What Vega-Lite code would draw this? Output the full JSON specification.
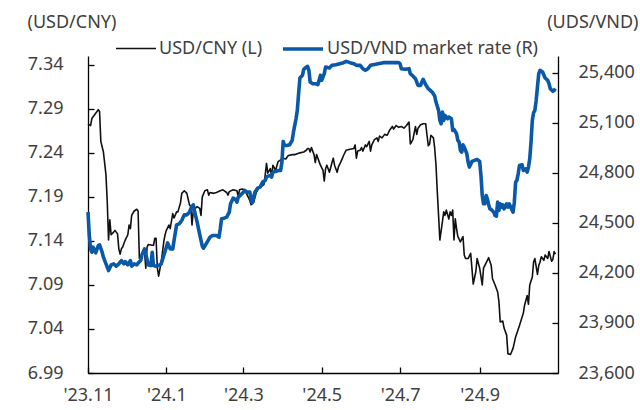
{
  "$schema": "https://vega.github.io/schema/vega-lite/v6.json",
  "autosize": {"type": "none"},
  "width": 470,
  "height": 317,
  "padding": {"left": 88, "top": 56, "right": 82, "bottom": 37},
  "background": "white",
  "config": {
    "view": {"stroke": null},
    "font": "Noto Sans",
    "axis": {
      "grid": false,
      "domainColor": "#000000",
      "domainWidth": 1.3,
      "tickColor": "#000000",
      "tickWidth": 1.3,
      "labelFont": "Noto Sans",
      "labelFontSize": 18,
      "labelColor": "#404040",
      "titleFont": "Noto Sans",
      "titleFontSize": 18,
      "titleFontWeight": "normal",
      "titleColor": "#404040"
    }
  },
  "layer": [
    {
      "data": {
        "format": {"parse": {"d": "date:'%Y-%m-%d'"}},
        "values": [
          {"d": "2023-11-01", "v": 7.273}, {"d": "2023-11-03", "v": 7.271}, {"d": "2023-11-04", "v": 7.279}, {"d": "2023-11-06", "v": 7.283},
          {"d": "2023-11-08", "v": 7.287}, {"d": "2023-11-09", "v": 7.289}, {"d": "2023-11-10", "v": 7.287}, {"d": "2023-11-11", "v": 7.253},
          {"d": "2023-11-13", "v": 7.241}, {"d": "2023-11-15", "v": 7.215}, {"d": "2023-11-16", "v": 7.184}, {"d": "2023-11-17", "v": 7.141},
          {"d": "2023-11-18", "v": 7.164}, {"d": "2023-11-19", "v": 7.147}, {"d": "2023-11-21", "v": 7.150}, {"d": "2023-11-22", "v": 7.152},
          {"d": "2023-11-24", "v": 7.148}, {"d": "2023-11-25", "v": 7.131}, {"d": "2023-11-26", "v": 7.125}, {"d": "2023-11-27", "v": 7.131},
          {"d": "2023-11-28", "v": 7.133}, {"d": "2023-11-30", "v": 7.141}, {"d": "2023-12-02", "v": 7.147}, {"d": "2023-12-03", "v": 7.158},
          {"d": "2023-12-04", "v": 7.154}, {"d": "2023-12-05", "v": 7.169}, {"d": "2023-12-07", "v": 7.174}, {"d": "2023-12-09", "v": 7.176},
          {"d": "2023-12-10", "v": 7.174}, {"d": "2023-12-11", "v": 7.120}, {"d": "2023-12-12", "v": 7.122}, {"d": "2023-12-14", "v": 7.128},
          {"d": "2023-12-15", "v": 7.128}, {"d": "2023-12-16", "v": 7.109}, {"d": "2023-12-17", "v": 7.133}, {"d": "2023-12-18", "v": 7.136},
          {"d": "2023-12-21", "v": 7.135}, {"d": "2023-12-22", "v": 7.135}, {"d": "2023-12-23", "v": 7.143}, {"d": "2023-12-24", "v": 7.143},
          {"d": "2023-12-25", "v": 7.109}, {"d": "2023-12-26", "v": 7.100}, {"d": "2023-12-28", "v": 7.116}, {"d": "2023-12-30", "v": 7.139},
          {"d": "2023-12-31", "v": 7.147}, {"d": "2024-01-01", "v": 7.152}, {"d": "2024-01-03", "v": 7.158}, {"d": "2024-01-04", "v": 7.154},
          {"d": "2024-01-06", "v": 7.171}, {"d": "2024-01-07", "v": 7.166}, {"d": "2024-01-09", "v": 7.173}, {"d": "2024-01-10", "v": 7.173},
          {"d": "2024-01-12", "v": 7.183}, {"d": "2024-01-13", "v": 7.194}, {"d": "2024-01-15", "v": 7.197}, {"d": "2024-01-17", "v": 7.194},
          {"d": "2024-01-19", "v": 7.181}, {"d": "2024-01-20", "v": 7.179}, {"d": "2024-01-21", "v": 7.158}, {"d": "2024-01-22", "v": 7.175},
          {"d": "2024-01-25", "v": 7.179}, {"d": "2024-01-27", "v": 7.177}, {"d": "2024-01-28", "v": 7.169}, {"d": "2024-01-29", "v": 7.190},
          {"d": "2024-01-31", "v": 7.197}, {"d": "2024-02-02", "v": 7.198}, {"d": "2024-02-03", "v": 7.192}, {"d": "2024-02-04", "v": 7.195},
          {"d": "2024-02-07", "v": 7.194}, {"d": "2024-02-09", "v": 7.195}, {"d": "2024-02-12", "v": 7.197}, {"d": "2024-02-14", "v": 7.198},
          {"d": "2024-02-17", "v": 7.195}, {"d": "2024-02-18", "v": 7.192}, {"d": "2024-02-19", "v": 7.196}, {"d": "2024-02-22", "v": 7.198},
          {"d": "2024-02-25", "v": 7.197}, {"d": "2024-02-26", "v": 7.190}, {"d": "2024-02-27", "v": 7.198}, {"d": "2024-02-29", "v": 7.199},
          {"d": "2024-03-02", "v": 7.198}, {"d": "2024-03-04", "v": 7.192}, {"d": "2024-03-06", "v": 7.186}, {"d": "2024-03-07", "v": 7.181},
          {"d": "2024-03-09", "v": 7.184}, {"d": "2024-03-11", "v": 7.195}, {"d": "2024-03-13", "v": 7.200}, {"d": "2024-03-15", "v": 7.202},
          {"d": "2024-03-17", "v": 7.204}, {"d": "2024-03-18", "v": 7.215}, {"d": "2024-03-19", "v": 7.228}, {"d": "2024-03-20", "v": 7.217},
          {"d": "2024-03-22", "v": 7.222}, {"d": "2024-03-23", "v": 7.213}, {"d": "2024-03-24", "v": 7.226}, {"d": "2024-03-26", "v": 7.220},
          {"d": "2024-03-28", "v": 7.230}, {"d": "2024-03-30", "v": 7.232}, {"d": "2024-04-01", "v": 7.234}, {"d": "2024-04-03", "v": 7.233},
          {"d": "2024-04-05", "v": 7.237}, {"d": "2024-04-08", "v": 7.238}, {"d": "2024-04-10", "v": 7.238}, {"d": "2024-04-12", "v": 7.239},
          {"d": "2024-04-14", "v": 7.240}, {"d": "2024-04-17", "v": 7.241}, {"d": "2024-04-19", "v": 7.243}, {"d": "2024-04-20", "v": 7.245},
          {"d": "2024-04-21", "v": 7.245}, {"d": "2024-04-22", "v": 7.241}, {"d": "2024-04-23", "v": 7.246}, {"d": "2024-04-25", "v": 7.238},
          {"d": "2024-04-26", "v": 7.229}, {"d": "2024-04-27", "v": 7.238}, {"d": "2024-04-30", "v": 7.226}, {"d": "2024-05-02", "v": 7.220},
          {"d": "2024-05-03", "v": 7.208}, {"d": "2024-05-04", "v": 7.222}, {"d": "2024-05-05", "v": 7.226}, {"d": "2024-05-07", "v": 7.218},
          {"d": "2024-05-09", "v": 7.229}, {"d": "2024-05-10", "v": 7.234}, {"d": "2024-05-11", "v": 7.226}, {"d": "2024-05-13", "v": 7.218},
          {"d": "2024-05-14", "v": 7.224}, {"d": "2024-05-16", "v": 7.230}, {"d": "2024-05-18", "v": 7.237}, {"d": "2024-05-20", "v": 7.243},
          {"d": "2024-05-23", "v": 7.244}, {"d": "2024-05-26", "v": 7.245}, {"d": "2024-05-27", "v": 7.249}, {"d": "2024-05-28", "v": 7.234},
          {"d": "2024-05-29", "v": 7.242}, {"d": "2024-05-31", "v": 7.243}, {"d": "2024-06-01", "v": 7.246}, {"d": "2024-06-02", "v": 7.242},
          {"d": "2024-06-04", "v": 7.249}, {"d": "2024-06-05", "v": 7.247}, {"d": "2024-06-07", "v": 7.253}, {"d": "2024-06-08", "v": 7.242},
          {"d": "2024-06-09", "v": 7.249}, {"d": "2024-06-11", "v": 7.255}, {"d": "2024-06-13", "v": 7.257}, {"d": "2024-06-14", "v": 7.253},
          {"d": "2024-06-15", "v": 7.259}, {"d": "2024-06-17", "v": 7.257}, {"d": "2024-06-19", "v": 7.261}, {"d": "2024-06-21", "v": 7.260},
          {"d": "2024-06-23", "v": 7.266}, {"d": "2024-06-25", "v": 7.270}, {"d": "2024-06-26", "v": 7.267}, {"d": "2024-06-28", "v": 7.271},
          {"d": "2024-06-30", "v": 7.269}, {"d": "2024-07-02", "v": 7.270}, {"d": "2024-07-04", "v": 7.268}, {"d": "2024-07-06", "v": 7.271},
          {"d": "2024-07-08", "v": 7.275}, {"d": "2024-07-09", "v": 7.250}, {"d": "2024-07-11", "v": 7.255}, {"d": "2024-07-13", "v": 7.270},
          {"d": "2024-07-14", "v": 7.261}, {"d": "2024-07-15", "v": 7.268}, {"d": "2024-07-17", "v": 7.272}, {"d": "2024-07-19", "v": 7.273},
          {"d": "2024-07-21", "v": 7.273}, {"d": "2024-07-22", "v": 7.260}, {"d": "2024-07-23", "v": 7.248}, {"d": "2024-07-24", "v": 7.250},
          {"d": "2024-07-25", "v": 7.260}, {"d": "2024-07-27", "v": 7.257}, {"d": "2024-07-28", "v": 7.245}, {"d": "2024-07-29", "v": 7.226},
          {"d": "2024-07-30", "v": 7.196}, {"d": "2024-07-31", "v": 7.169}, {"d": "2024-08-01", "v": 7.141}, {"d": "2024-08-03", "v": 7.162},
          {"d": "2024-08-04", "v": 7.173}, {"d": "2024-08-05", "v": 7.169}, {"d": "2024-08-06", "v": 7.175}, {"d": "2024-08-08", "v": 7.165},
          {"d": "2024-08-09", "v": 7.173}, {"d": "2024-08-10", "v": 7.169}, {"d": "2024-08-11", "v": 7.175}, {"d": "2024-08-12", "v": 7.141},
          {"d": "2024-08-13", "v": 7.165}, {"d": "2024-08-14", "v": 7.154}, {"d": "2024-08-15", "v": 7.145}, {"d": "2024-08-17", "v": 7.139},
          {"d": "2024-08-19", "v": 7.145}, {"d": "2024-08-20", "v": 7.124}, {"d": "2024-08-21", "v": 7.120}, {"d": "2024-08-23", "v": 7.120},
          {"d": "2024-08-25", "v": 7.126}, {"d": "2024-08-27", "v": 7.091}, {"d": "2024-08-29", "v": 7.105}, {"d": "2024-08-30", "v": 7.120},
          {"d": "2024-09-01", "v": 7.109}, {"d": "2024-09-03", "v": 7.090}, {"d": "2024-09-04", "v": 7.109}, {"d": "2024-09-07", "v": 7.118},
          {"d": "2024-09-08", "v": 7.121}, {"d": "2024-09-10", "v": 7.112}, {"d": "2024-09-11", "v": 7.097}, {"d": "2024-09-13", "v": 7.090},
          {"d": "2024-09-15", "v": 7.082}, {"d": "2024-09-16", "v": 7.071}, {"d": "2024-09-17", "v": 7.048}, {"d": "2024-09-19", "v": 7.049},
          {"d": "2024-09-20", "v": 7.041}, {"d": "2024-09-22", "v": 7.033}, {"d": "2024-09-23", "v": 7.012}, {"d": "2024-09-25", "v": 7.011},
          {"d": "2024-09-27", "v": 7.018}, {"d": "2024-09-29", "v": 7.031}, {"d": "2024-10-02", "v": 7.044}, {"d": "2024-10-05", "v": 7.058},
          {"d": "2024-10-06", "v": 7.067}, {"d": "2024-10-08", "v": 7.078}, {"d": "2024-10-09", "v": 7.068}, {"d": "2024-10-10", "v": 7.090},
          {"d": "2024-10-12", "v": 7.099}, {"d": "2024-10-13", "v": 7.116}, {"d": "2024-10-14", "v": 7.120}, {"d": "2024-10-16", "v": 7.102},
          {"d": "2024-10-17", "v": 7.112}, {"d": "2024-10-18", "v": 7.116}, {"d": "2024-10-19", "v": 7.122}, {"d": "2024-10-21", "v": 7.118},
          {"d": "2024-10-22", "v": 7.124}, {"d": "2024-10-24", "v": 7.120}, {"d": "2024-10-25", "v": 7.128}, {"d": "2024-10-27", "v": 7.117},
          {"d": "2024-10-28", "v": 7.119}, {"d": "2024-10-29", "v": 7.128}, {"d": "2024-10-30", "v": 7.125}
        ]
      },
      "mark": {"type": "line", "interpolate": "linear", "strokeJoin": "round"},
      "encoding": {
        "x": {
          "field": "d", "type": "temporal",
          "scale": {"domain": [{"year": 2023, "month": 11, "date": 1}, {"year": 2024, "month": 11, "date": 1}], "nice": false},
          "axis": {
            "orient": "bottom",
            "title": null,
            "ticks": false,
            "tickSize": 0,
            "values": [
              {"year": 2023, "month": 11, "date": 1}, {"year": 2024, "month": 1, "date": 1}, {"year": 2024, "month": 3, "date": 1},
              {"year": 2024, "month": 5, "date": 1}, {"year": 2024, "month": 7, "date": 1}, {"year": 2024, "month": 9, "date": 1}
            ],
            "labelExpr": "\"'\" + timeFormat(datum.value, '%y') + '.' + (month(datum.value) + 1)",
            "labelPadding": 13,
            "labelFlush": false,
            "labelOverlap": false
          }
        },
        "y": {
          "field": "v", "type": "quantitative",
          "scale": {"domain": [6.99, 7.35], "nice": false, "zero": false},
          "axis": {
            "orient": "left",
            "ticks": false,
            "tickSize": 0,
            "values": [6.99, 7.04, 7.09, 7.14, 7.19, 7.24, 7.29, 7.34],
            "format": ".2f",
            "labelPadding": 25,
            "title": "(USD/CNY)",
            "titleAngle": 0,
            "titleAlign": "left",
            "titleBaseline": "middle",
            "titleX": -61,
            "titleY": -34
          }
        },
        "color": {
          "datum": "USD/CNY (L)",
          "type": "nominal",
          "scale": {"domain": ["USD/CNY (L)", "USD/VND market rate (R)"], "range": ["#111111", "#0a58a8"]},
          "legend": {
            "title": null,
            "orient": "none",
            "legendX": 27,
            "legendY": -29,
            "direction": "horizontal",
            "symbolType": "stroke",
            "symbolSize": 1600,
            "symbolStrokeWidth": 2.5,
            "labelFont": "Noto Sans",
            "labelFontSize": 18,
            "labelColor": "#404040",
            "labelLimit": 0,
            "labelOffset": 2,
            "columnPadding": 12
          }
        },
        "strokeWidth": {
          "datum": "USD/CNY (L)",
          "type": "nominal",
          "scale": {"domain": ["USD/CNY (L)", "USD/VND market rate (R)"], "range": [1.6, 3.6]}
        }
      }
    },
    {
      "data": {
        "format": {"parse": {"d": "date:'%Y-%m-%d'"}},
        "values": [
          {"d": "2023-11-01", "v": 24564}, {"d": "2023-11-02", "v": 24424}, {"d": "2023-11-03", "v": 24344}, {"d": "2023-11-04", "v": 24324},
          {"d": "2023-11-05", "v": 24354}, {"d": "2023-11-07", "v": 24320}, {"d": "2023-11-09", "v": 24364}, {"d": "2023-11-10", "v": 24368},
          {"d": "2023-11-12", "v": 24324}, {"d": "2023-11-13", "v": 24294}, {"d": "2023-11-15", "v": 24254}, {"d": "2023-11-17", "v": 24214},
          {"d": "2023-11-19", "v": 24248}, {"d": "2023-11-21", "v": 24254}, {"d": "2023-11-23", "v": 24240}, {"d": "2023-11-25", "v": 24254},
          {"d": "2023-11-27", "v": 24274}, {"d": "2023-11-29", "v": 24254}, {"d": "2023-11-30", "v": 24268}, {"d": "2023-12-02", "v": 24248},
          {"d": "2023-12-04", "v": 24274}, {"d": "2023-12-05", "v": 24240}, {"d": "2023-12-07", "v": 24254}, {"d": "2023-12-09", "v": 24248},
          {"d": "2023-12-11", "v": 24268}, {"d": "2023-12-12", "v": 24274}, {"d": "2023-12-13", "v": 24308}, {"d": "2023-12-15", "v": 24344},
          {"d": "2023-12-17", "v": 24280}, {"d": "2023-12-18", "v": 24248}, {"d": "2023-12-20", "v": 24244}, {"d": "2023-12-21", "v": 24324},
          {"d": "2023-12-22", "v": 24244}, {"d": "2023-12-24", "v": 24240}, {"d": "2023-12-26", "v": 24244}, {"d": "2023-12-28", "v": 24254},
          {"d": "2023-12-30", "v": 24304}, {"d": "2024-01-01", "v": 24354}, {"d": "2024-01-02", "v": 24380}, {"d": "2024-01-04", "v": 24344},
          {"d": "2024-01-06", "v": 24344}, {"d": "2024-01-07", "v": 24394}, {"d": "2024-01-09", "v": 24488}, {"d": "2024-01-11", "v": 24494},
          {"d": "2024-01-13", "v": 24514}, {"d": "2024-01-15", "v": 24548}, {"d": "2024-01-17", "v": 24548}, {"d": "2024-01-19", "v": 24564},
          {"d": "2024-01-20", "v": 24584}, {"d": "2024-01-22", "v": 24608}, {"d": "2024-01-23", "v": 24568}, {"d": "2024-01-25", "v": 24504},
          {"d": "2024-01-27", "v": 24430}, {"d": "2024-01-29", "v": 24360}, {"d": "2024-01-30", "v": 24348}, {"d": "2024-02-01", "v": 24374},
          {"d": "2024-02-04", "v": 24414}, {"d": "2024-02-06", "v": 24424}, {"d": "2024-02-09", "v": 24424}, {"d": "2024-02-11", "v": 24414},
          {"d": "2024-02-12", "v": 24464}, {"d": "2024-02-13", "v": 24524}, {"d": "2024-02-15", "v": 24528}, {"d": "2024-02-17", "v": 24534},
          {"d": "2024-02-19", "v": 24564}, {"d": "2024-02-20", "v": 24614}, {"d": "2024-02-22", "v": 24648}, {"d": "2024-02-24", "v": 24640},
          {"d": "2024-02-25", "v": 24624}, {"d": "2024-02-26", "v": 24654}, {"d": "2024-02-28", "v": 24668}, {"d": "2024-03-01", "v": 24684},
          {"d": "2024-03-02", "v": 24694}, {"d": "2024-03-04", "v": 24684}, {"d": "2024-03-06", "v": 24684}, {"d": "2024-03-07", "v": 24644},
          {"d": "2024-03-08", "v": 24620}, {"d": "2024-03-10", "v": 24684}, {"d": "2024-03-12", "v": 24708}, {"d": "2024-03-14", "v": 24714},
          {"d": "2024-03-16", "v": 24744}, {"d": "2024-03-18", "v": 24754}, {"d": "2024-03-19", "v": 24774}, {"d": "2024-03-20", "v": 24780},
          {"d": "2024-03-22", "v": 24784}, {"d": "2024-03-23", "v": 24774}, {"d": "2024-03-24", "v": 24804}, {"d": "2024-03-26", "v": 24808},
          {"d": "2024-03-28", "v": 24814}, {"d": "2024-03-30", "v": 24814}, {"d": "2024-03-31", "v": 24864}, {"d": "2024-04-01", "v": 24988},
          {"d": "2024-04-02", "v": 24964}, {"d": "2024-04-04", "v": 24964}, {"d": "2024-04-06", "v": 24968}, {"d": "2024-04-08", "v": 24994},
          {"d": "2024-04-09", "v": 25044}, {"d": "2024-04-10", "v": 25084}, {"d": "2024-04-11", "v": 25124}, {"d": "2024-04-12", "v": 25174},
          {"d": "2024-04-13", "v": 25274}, {"d": "2024-04-14", "v": 25368}, {"d": "2024-04-16", "v": 25384}, {"d": "2024-04-17", "v": 25420},
          {"d": "2024-04-19", "v": 25434}, {"d": "2024-04-20", "v": 25438}, {"d": "2024-04-21", "v": 25414}, {"d": "2024-04-22", "v": 25344},
          {"d": "2024-04-24", "v": 25334}, {"d": "2024-04-26", "v": 25334}, {"d": "2024-04-28", "v": 25328}, {"d": "2024-04-30", "v": 25384},
          {"d": "2024-05-01", "v": 25354}, {"d": "2024-05-03", "v": 25394}, {"d": "2024-05-04", "v": 25434}, {"d": "2024-05-07", "v": 25428},
          {"d": "2024-05-09", "v": 25444}, {"d": "2024-05-12", "v": 25448}, {"d": "2024-05-15", "v": 25454}, {"d": "2024-05-18", "v": 25460},
          {"d": "2024-05-20", "v": 25468}, {"d": "2024-05-23", "v": 25460}, {"d": "2024-05-26", "v": 25454}, {"d": "2024-05-28", "v": 25444},
          {"d": "2024-05-31", "v": 25444}, {"d": "2024-06-02", "v": 25424}, {"d": "2024-06-04", "v": 25414}, {"d": "2024-06-06", "v": 25424},
          {"d": "2024-06-08", "v": 25444}, {"d": "2024-06-10", "v": 25448}, {"d": "2024-06-14", "v": 25454}, {"d": "2024-06-18", "v": 25460},
          {"d": "2024-06-22", "v": 25460}, {"d": "2024-06-26", "v": 25460}, {"d": "2024-06-30", "v": 25460}, {"d": "2024-07-01", "v": 25454},
          {"d": "2024-07-02", "v": 25424}, {"d": "2024-07-05", "v": 25420}, {"d": "2024-07-08", "v": 25424}, {"d": "2024-07-09", "v": 25394},
          {"d": "2024-07-11", "v": 25380}, {"d": "2024-07-13", "v": 25364}, {"d": "2024-07-15", "v": 25324}, {"d": "2024-07-17", "v": 25324},
          {"d": "2024-07-18", "v": 25344}, {"d": "2024-07-19", "v": 25360}, {"d": "2024-07-21", "v": 25328}, {"d": "2024-07-23", "v": 25304},
          {"d": "2024-07-26", "v": 25284}, {"d": "2024-07-28", "v": 25260}, {"d": "2024-07-29", "v": 25224}, {"d": "2024-07-31", "v": 25174},
          {"d": "2024-08-01", "v": 25114}, {"d": "2024-08-02", "v": 25094}, {"d": "2024-08-03", "v": 25164}, {"d": "2024-08-04", "v": 25114},
          {"d": "2024-08-05", "v": 25144}, {"d": "2024-08-07", "v": 25124}, {"d": "2024-08-08", "v": 25134}, {"d": "2024-08-10", "v": 25124},
          {"d": "2024-08-11", "v": 25054}, {"d": "2024-08-12", "v": 25060}, {"d": "2024-08-14", "v": 25034}, {"d": "2024-08-15", "v": 24994},
          {"d": "2024-08-16", "v": 24984}, {"d": "2024-08-17", "v": 24934}, {"d": "2024-08-18", "v": 24924}, {"d": "2024-08-19", "v": 24968},
          {"d": "2024-08-20", "v": 24954}, {"d": "2024-08-22", "v": 24914}, {"d": "2024-08-23", "v": 24864}, {"d": "2024-08-24", "v": 24834},
          {"d": "2024-08-26", "v": 24868}, {"d": "2024-08-28", "v": 24874}, {"d": "2024-08-30", "v": 24880}, {"d": "2024-09-01", "v": 24868},
          {"d": "2024-09-02", "v": 24784}, {"d": "2024-09-03", "v": 24664}, {"d": "2024-09-04", "v": 24614}, {"d": "2024-09-05", "v": 24614},
          {"d": "2024-09-06", "v": 24664}, {"d": "2024-09-07", "v": 24644}, {"d": "2024-09-08", "v": 24608}, {"d": "2024-09-09", "v": 24584},
          {"d": "2024-09-10", "v": 24580}, {"d": "2024-09-12", "v": 24564}, {"d": "2024-09-13", "v": 24544}, {"d": "2024-09-14", "v": 24540},
          {"d": "2024-09-15", "v": 24624}, {"d": "2024-09-16", "v": 24574}, {"d": "2024-09-17", "v": 24614}, {"d": "2024-09-18", "v": 24594},
          {"d": "2024-09-19", "v": 24608}, {"d": "2024-09-20", "v": 24584}, {"d": "2024-09-22", "v": 24614}, {"d": "2024-09-23", "v": 24594},
          {"d": "2024-09-24", "v": 24614}, {"d": "2024-09-26", "v": 24580}, {"d": "2024-09-27", "v": 24564}, {"d": "2024-09-28", "v": 24624},
          {"d": "2024-09-29", "v": 24744}, {"d": "2024-09-30", "v": 24754}, {"d": "2024-10-01", "v": 24794}, {"d": "2024-10-02", "v": 24844},
          {"d": "2024-10-04", "v": 24848}, {"d": "2024-10-05", "v": 24814}, {"d": "2024-10-07", "v": 24824}, {"d": "2024-10-08", "v": 24804},
          {"d": "2024-10-09", "v": 24834}, {"d": "2024-10-10", "v": 24884}, {"d": "2024-10-11", "v": 24984}, {"d": "2024-10-12", "v": 25114},
          {"d": "2024-10-13", "v": 25160}, {"d": "2024-10-14", "v": 25174}, {"d": "2024-10-15", "v": 25234}, {"d": "2024-10-16", "v": 25314},
          {"d": "2024-10-17", "v": 25394}, {"d": "2024-10-18", "v": 25414}, {"d": "2024-10-20", "v": 25404}, {"d": "2024-10-22", "v": 25368},
          {"d": "2024-10-24", "v": 25354}, {"d": "2024-10-25", "v": 25334}, {"d": "2024-10-26", "v": 25304}, {"d": "2024-10-28", "v": 25288},
          {"d": "2024-10-29", "v": 25294}, {"d": "2024-10-30", "v": 25304}
        ]
      },
      "mark": {"type": "line", "interpolate": "linear", "strokeJoin": "round"},
      "encoding": {
        "x": {
          "field": "d", "type": "temporal",
          "axis": {
            "orient": "bottom",
            "offset": -6,
            "ticks": true,
            "tickSize": 6,
            "domain": false,
            "labels": false,
            "title": null,
            "values": [
              {"year": 2023, "month": 11, "date": 1}, {"year": 2024, "month": 1, "date": 1}, {"year": 2024, "month": 3, "date": 1},
              {"year": 2024, "month": 5, "date": 1}, {"year": 2024, "month": 7, "date": 1}, {"year": 2024, "month": 9, "date": 1}
            ]
          }
        },
        "y": {
          "field": "v", "type": "quantitative",
          "scale": {"domain": [23600, 25500], "nice": false, "zero": false},
          "axis": {
            "orient": "right",
            "ticks": false,
            "tickSize": 0,
            "values": [23600, 23900, 24200, 24500, 24800, 25100, 25400],
            "format": ",d",
            "labelPadding": 20,
            "title": "(UDS/VND)",
            "titleAngle": 0,
            "titleAlign": "right",
            "titleBaseline": "middle",
            "titleX": 80,
            "titleY": -34
          }
        },
        "color": {"datum": "USD/VND market rate (R)", "type": "nominal"},
        "strokeWidth": {"datum": "USD/VND market rate (R)", "type": "nominal"}
      }
    },
    {
      "data": {"values": [{}]},
      "mark": {"type": "rule", "opacity": 0},
      "encoding": {
        "y": {
          "datum": 7.0, "type": "quantitative",
          "scale": {"domain": [6.99, 7.35], "nice": false, "zero": false},
          "axis": {
            "orient": "left",
            "offset": -6,
            "ticks": true,
            "tickSize": 6,
            "domain": false,
            "labels": false,
            "title": null,
            "values": [6.99, 7.04, 7.09, 7.14, 7.19, 7.24, 7.29, 7.34]
          }
        }
      }
    },
    {
      "data": {"values": [{}]},
      "mark": {"type": "rule", "opacity": 0},
      "encoding": {
        "y": {
          "datum": 24000, "type": "quantitative",
          "scale": {"domain": [23600, 25500], "nice": false, "zero": false},
          "axis": {
            "orient": "right",
            "offset": -6,
            "ticks": true,
            "tickSize": 6,
            "domain": false,
            "labels": false,
            "title": null,
            "values": [23600, 23900, 24200, 24500, 24800, 25100, 25400]
          }
        }
      }
    }
  ],
  "resolve": {"scale": {"y": "independent"}, "axis": {"x": "independent", "y": "independent"}}
}
